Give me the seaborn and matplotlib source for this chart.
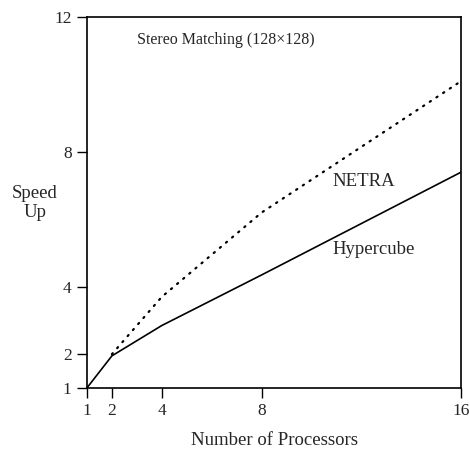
import numpy as np
import pandas as pd
import matplotlib
matplotlib.use("Agg")
import matplotlib.pyplot as plt
import seaborn as sns

# data
procs = [1, 2, 4, 8, 16]
hypercube = [1.0, 1.95, 2.85, 4.35, 7.4]
netra_procs = [2, 4, 8, 16]
netra = [2.0, 3.7, 6.2, 10.1]

sns.set_style("white")
plt.rcParams['font.family'] = ['Liberation Serif', 'DejaVu Serif']
plt.rcParams['font.size'] = 13.5

fig = plt.figure(figsize=(4.7, 4.5), dpi=100)
ax = fig.add_axes([0.185, 0.138, 0.796, 0.824])

df_h = pd.DataFrame({'p': procs, 'speedup': hypercube})
df_n = pd.DataFrame({'p': netra_procs, 'speedup': netra})
sns.lineplot(data=df_n, x='p', y='speedup', ax=ax, color='black',
             linewidth=1.6, linestyle=(0, (0.6, 3.0)), dash_capstyle='round')
sns.lineplot(data=df_h, x='p', y='speedup', ax=ax, color='black', linewidth=1.2)

ax.set_xlim(1, 16)
ax.set_ylim(1, 12)
ax.set_xticks(procs)
ax.set_yticks([1, 2, 4, 8, 12])
ax.tick_params(bottom=True, left=True, direction='out', length=7.5, width=1,
               color='black', labelsize=12.5, pad=3.5)
for s in ax.spines.values():
    s.set_color('black')
    s.set_linewidth(1.2)

ax.set_xlabel('Number of Processors', fontsize=13.5, labelpad=9)
ax.set_ylabel('')
fig.text(35 / 470, 1 - 203 / 450, 'Speed\nUp', ha='center', va='center', fontsize=13.5,
         linespacing=1.15)
ax.text(0.37, 0.938, 'Stereo Matching (128\u00d7128)', transform=ax.transAxes,
        ha='center', va='center', fontsize=11.5)
ax.text(10.83, 7.11, 'NETRA', ha='left', va='center', fontsize=13.5)
ax.text(10.83, 5.1, 'Hypercube', ha='left', va='center', fontsize=13.5)

fig.savefig('out.png', dpi=100)
